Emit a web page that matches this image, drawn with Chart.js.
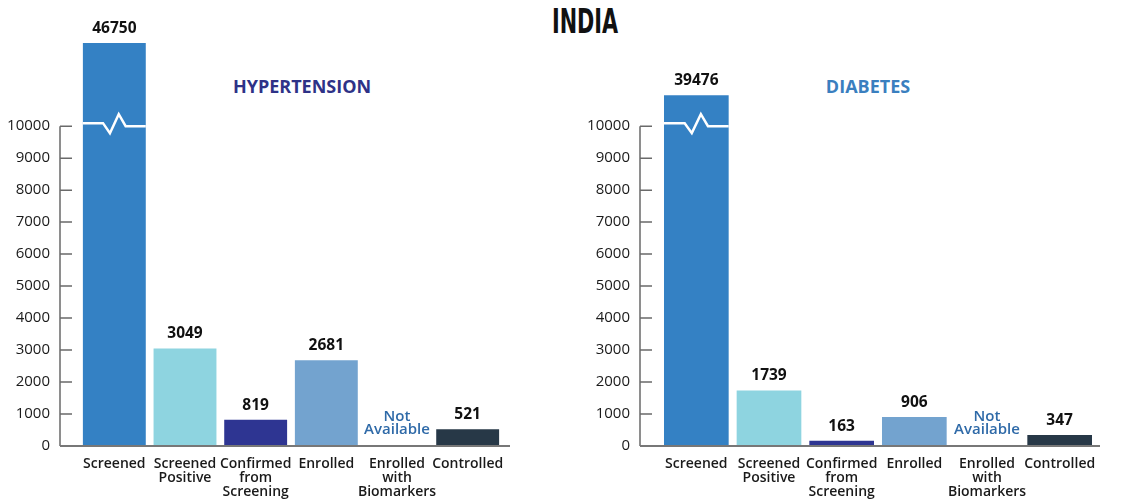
<!DOCTYPE html>
<html>
<head>
<meta charset="utf-8">
<script src="https://cdn.jsdelivr.net/npm/chart.js@4.4.1/dist/chart.umd.min.js"></script>
<style>
  body { margin: 0; background: #fff; width: 1125px; height: 499px; overflow: hidden; position: relative; font-family: "Open Sans", sans-serif; }
  canvas { position: absolute; top: 0; }
  #title { position: absolute; left: 485px; width: 200px; top: 2px; text-align: center; font-family: "DejaVu Sans Condensed", "DejaVu Sans", sans-serif; font-weight: bold; font-size: 33px; line-height: 40px; color: #111; transform: scaleX(0.7); }
  .sub { position: absolute; width: 240px; top: 74px; text-align: center; font-weight: 700; font-size: 18px; line-height: 24px; }
</style>
</head>
<body>
<div id="title">INDIA</div>
<div class="sub" style="left:182px;color:#2e3287">HYPERTENSION</div>
<div class="sub" style="left:748px;color:#3a7fbf">DIABETES</div>
<canvas id="hyChart" width="562" height="499" style="left:0"></canvas>
<canvas id="diChart" width="563" height="499" style="left:562px"></canvas>
<script>
var categories = [["Screened"], ["Screened", "Positive"], ["Confirmed", "from", "Screening"], ["Enrolled"], ["Enrolled", "with", "Biomarkers"], ["Controlled"]];
var hyValues = [46750, 3049, 819, 2681, null, 521];
var diValues = [39476, 1739, 163, 906, null, 347];
var yTicks = [0, 1000, 2000, 3000, 4000, 5000, 6000, 7000, 8000, 9000, 10000];
var breakAt = 10000;     // axis is broken above this
var hyBrokenTop = 12600; // drawn height of the broken bar
var diBrokenTop = 10970;
var yMax = 12600;
var missingText = ["Not", "Available"];
var barColors = ["#3481c4", "#8ed4e0", "#2e3592", "#73a3cf", "#73a3cf", "#273847"];

var fontFam = "'Open Sans', sans-serif";

var barPlugin = {
  id: "barExtras",
  afterDatasetsDraw(chart, args, opts) {
    var ctx = chart.ctx;
    var y = chart.scales.y, x = chart.scales.x;
    var y0 = y.getPixelForValue(0);
    var yBreak = y.getPixelForValue(breakAt);
    var values = opts.values;
    ctx.save();

    // axis lines
    ctx.strokeStyle = "#6a6a6a";
    ctx.lineWidth = 1.5;
    ctx.beginPath();
    ctx.moveTo(opts.axisX, yBreak);
    ctx.lineTo(opts.axisX, y0);
    yTicks.forEach(function (v) {
      var p = y.getPixelForValue(v);
      ctx.moveTo(opts.axisX, p);
      ctx.lineTo(opts.axisX + 12, p);
    });
    ctx.stroke();
    ctx.lineWidth = 2;
    ctx.strokeStyle = "#777";
    ctx.beginPath();
    ctx.moveTo(opts.axisX, y0);
    ctx.lineTo(opts.axisEnd, y0);
    ctx.stroke();

    var meta = chart.getDatasetMeta(0);
    meta.data.forEach(function (bar, i) {
      var v = values[i];
      if (v == null) {
        // no bar -> "Not Available"
        ctx.fillStyle = "#2f6aa8";
        ctx.font = "600 15px " + fontFam;
        ctx.textAlign = "center";
        ctx.textBaseline = "middle";
        ctx.fillText(missingText[0], x.getPixelForValue(i), y0 - 29);
        ctx.fillText(missingText[1], x.getPixelForValue(i), y0 - 16);
        return;
      }
      var left = bar.x - bar.width / 2, w = bar.width;
      if (v > breakAt) {
        // zigzag break mark
        ctx.strokeStyle = "#fff";
        ctx.lineWidth = 2.5;
        ctx.beginPath();
        ctx.moveTo(left, yBreak - 3);
        ctx.lineTo(left + 0.32 * w, yBreak - 3);
        ctx.lineTo(left + 0.43 * w, yBreak + 7);
        ctx.lineTo(left + 0.57 * w, yBreak - 12);
        ctx.lineTo(left + 0.68 * w, yBreak);
        ctx.lineTo(left + w, yBreak);
        ctx.stroke();
      }
      ctx.fillStyle = "#111";
      ctx.font = "bold 15.5px " + fontFam;
      ctx.textAlign = "center";
      ctx.textBaseline = "alphabetic";
      ctx.fillText(String(v), bar.x, bar.y - 10);
    });
    ctx.restore();
  }
};

function makeChart(id, values, brokenTop, yWidth, yPad, padRight, axisX, axisEnd) {
  var shown = values.map(function (v) { return v > breakAt ? brokenTop : v; });
  return new Chart(document.getElementById(id), {
    type: "bar",
    data: {
      labels: categories,
      datasets: [{
        data: shown,
        backgroundColor: barColors,
        borderWidth: 0,
        barPercentage: 0.89,
        categoryPercentage: 1
      }]
    },
    options: {
      responsive: false,
      animation: false,
      layout: { padding: { top: 43, right: padRight, bottom: 0, left: 0 } },
      plugins: {
        legend: { display: false },
        tooltip: { enabled: false },
        barExtras: { values: values, axisX: axisX, axisEnd: axisEnd }
      },
      scales: {
        x: {
          grid: { display: false, drawTicks: false },
          border: { display: false },
          ticks: {
            padding: 11, maxRotation: 0, autoSkip: false, color: "#1a1a1a",
            font: { family: fontFam, size: 14, weight: 600, lineHeight: 1 }
          },
          afterFit: function (s) { s.height = 53; }
        },
        y: {
          min: 0, max: yMax,
          grid: { display: false, drawTicks: false },
          border: { display: false },
          afterBuildTicks: function (s) { s.ticks = yTicks.map(function (v) { return { value: v }; }); },
          afterFit: function (s) { s.width = yWidth; },
          ticks: {
            padding: yPad, color: "#1a1a1a", font: { family: fontFam, size: 15 },
            callback: function (v) { return String(v); }
          }
        }
      }
    },
    plugins: [barPlugin]
  });
}

makeChart("hyChart", hyValues, hyBrokenTop, 79, 29, 59, 60, 510);
makeChart("diChart", diValues, diBrokenTop, 98, 30, 29, 78, 538);
</script>
</body>
</html>
